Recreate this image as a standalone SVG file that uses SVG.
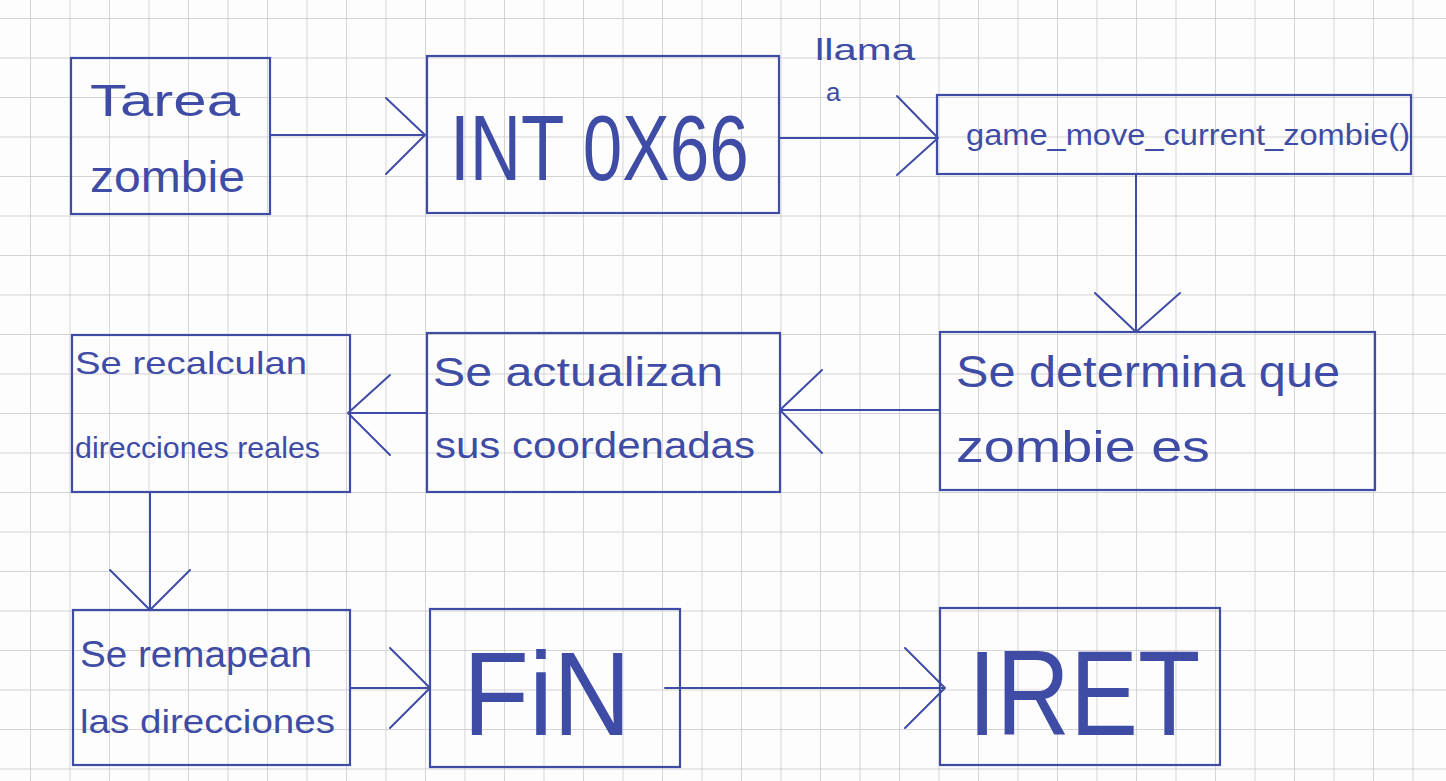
<svg xmlns="http://www.w3.org/2000/svg" width="1446" height="781" viewBox="0 0 1446 781">
<defs>
<pattern id="grid" patternUnits="userSpaceOnUse" x="30" y="18" width="39.5" height="39.5">
<path d="M0 0H39.5M0 0V39.5" fill="none" stroke="#c6c6c6" stroke-width="1.4"/>
</pattern>
<style>
.box{fill:none;stroke:#3f4ca6;stroke-width:2.2}
.ln{fill:none;stroke:#3f4ca6;stroke-width:2;stroke-linecap:round;stroke-linejoin:round}
.t{fill:#3f4ca6;font-family:"Liberation Sans",Arial,sans-serif;font-weight:normal}
</style>
</defs>
<rect width="1446" height="781" fill="#fdfdfd"/>
<rect width="1446" height="781" fill="url(#grid)"/>

<g id="tarea">
<rect class="box" x="71" y="58" width="199" height="156"/>
<text class="t" x="90" y="116" font-size="44" textLength="150" lengthAdjust="spacingAndGlyphs">Tarea</text>
<text class="t" x="90" y="192" font-size="44" textLength="155" lengthAdjust="spacingAndGlyphs">zombie</text>
</g>

<g id="int66">
<rect class="box" x="427" y="56" width="352" height="157"/>
<text class="t" transform="translate(450,180) scale(0.772,1)" font-size="92">INT 0X66</text>
</g>

<g id="game">
<rect class="box" x="937" y="95" width="474" height="79"/>
<text class="t" x="966" y="145" font-size="30" textLength="444" lengthAdjust="spacingAndGlyphs">game_move_current_zombie()</text>
</g>

<g id="determina">
<rect class="box" x="940" y="332" width="435" height="158"/>
<text class="t" x="956" y="387" font-size="44" textLength="384" lengthAdjust="spacingAndGlyphs">Se determina que</text>
<text class="t" x="956" y="462" font-size="44" textLength="254" lengthAdjust="spacingAndGlyphs">zombie es</text>
</g>

<g id="actualizan">
<rect class="box" x="427" y="333" width="353" height="159"/>
<text class="t" x="433" y="386" font-size="40" textLength="290" lengthAdjust="spacingAndGlyphs">Se actualizan</text>
<text class="t" x="435" y="458" font-size="36" textLength="320" lengthAdjust="spacingAndGlyphs">sus coordenadas</text>
</g>

<g id="recalculan">
<rect class="box" x="72" y="335" width="278" height="157"/>
<text class="t" x="75" y="374" font-size="32" textLength="232" lengthAdjust="spacingAndGlyphs">Se recalculan</text>
<text class="t" x="75" y="458" font-size="30" textLength="245" lengthAdjust="spacingAndGlyphs">direcciones reales</text>
</g>

<g id="remapean">
<rect class="box" x="73" y="610" width="277" height="155"/>
<text class="t" x="80" y="667" font-size="36" textLength="232" lengthAdjust="spacingAndGlyphs">Se remapean</text>
<text class="t" x="80" y="733" font-size="34" textLength="255" lengthAdjust="spacingAndGlyphs">las direcciones</text>
</g>

<g id="fin">
<rect class="box" x="430" y="609" width="250" height="158"/>
<text class="t" transform="translate(463,735) scale(0.915,1)" font-size="118">FiN</text>
</g>

<g id="iret">
<rect class="box" x="940" y="608" width="280" height="157"/>
<text class="t" transform="translate(968,735) scale(0.85,1)" font-size="120">IRET</text>
</g>

<g id="connectors">
<path class="ln" d="M270 135H425M386 98L425 135L386 174"/>
<path class="ln" d="M780 138H938M897 96L938 138L897 175"/>
<text class="t" x="815" y="60" font-size="30" textLength="100" lengthAdjust="spacingAndGlyphs">llama</text>
<text class="t" x="826" y="101" font-size="26">a</text>
<path class="ln" d="M1136 174V332M1095 293L1136 332L1180 293"/>
<path class="ln" d="M940 410H780M822 370L780 410L822 453"/>
<path class="ln" d="M427 413H348M390 375L348 413L390 455"/>
<path class="ln" d="M150 492V610M110 570L150 610L190 570"/>
<path class="ln" d="M350 688H430M390 648L430 688L390 728"/>
<path class="ln" d="M665 688H945M905 648L945 688L905 728"/>
</g>
</svg>
